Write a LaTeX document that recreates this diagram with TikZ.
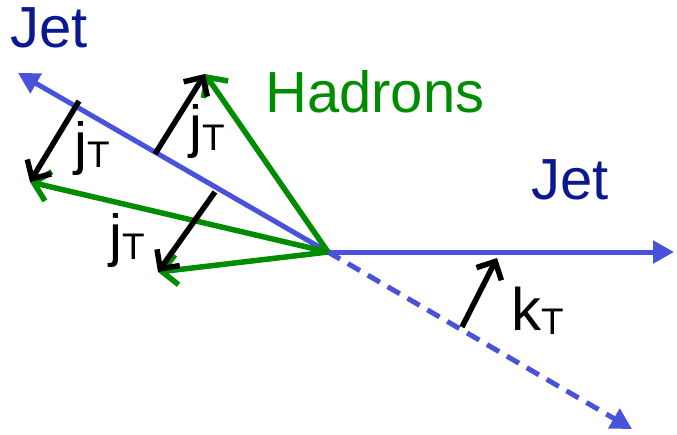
\documentclass[tikz,border=0pt]{standalone}
\usepackage{fontspec}
\setmainfont{Liberation Sans}
\usetikzlibrary{arrows.meta}
\definecolor{jetline}{RGB}{72,82,218}
\definecolor{jettext}{RGB}{10,24,145}
\definecolor{hadgreen}{RGB}{0,140,0}
\tikzset{
  jetarrow/.style={draw=jetline,line width=5pt,-{Triangle[length=21pt,width=22pt]}},
  hadarrow/.style={draw=hadgreen,line width=5.5pt,-{Straight Barb[length=15pt,width=30pt,line width=5.5pt]}},
  trarrow/.style={draw=black,line width=5.5pt,-{Straight Barb[length=14pt,width=28pt,line width=5.5pt]}},
  bigtext/.style={inner sep=0pt,anchor=base west,font=\fontsize{58}{62}\selectfont},
}
\newcommand{\trlabel}[1]{#1\raisebox{-4pt}{\fontsize{37}{40}\selectfont T}}
\begin{document}
\begin{tikzpicture}[x=1pt,y=-1pt]
\useasboundingbox (0,0) rectangle (677,434);
\coordinate (O) at (328,252);
\coordinate (J1) at (18,73);
\coordinate (J2) at (674,252);
\coordinate (JD) at (632,429);
\coordinate (H1) at (205,74);
\coordinate (H2) at (30,182);
\coordinate (H3) at (158,272);
\coordinate (a1) at (79,101);
\coordinate (a2) at (155,154);
\coordinate (a3) at (215,192);
\coordinate (k0) at (462,327);
\coordinate (k1) at (497,258);
% jet axes
\draw[jetarrow] (O) -- (J1);
\draw[jetarrow] (O) -- (J2);
\draw[jetarrow,dash pattern=on 14pt off 9pt] (O) -- (JD);
% hadrons
\draw[hadarrow] (O) -- (H1);
\draw[hadarrow] (O) -- (H2);
\draw[hadarrow] (O) -- (H3);
% transverse momenta
\draw[trarrow] (a1) -- (H2);
\draw[trarrow] (a2) -- (H1);
\draw[trarrow] (a3) -- (H3);
\draw[trarrow] (k0) -- (k1);
% labels
\node[bigtext,text=jettext] (jetA) at (10,47) {Jet};
\node[bigtext,text=jettext] (jetB) at (531,199) {Jet};
\node[bigtext,text=hadgreen] (had) at (265,112) {Hadrons};
\node[bigtext] (jt1) at (74,163) {\trlabel{j}};
\node[bigtext] (jt2) at (189,146) {\trlabel{j}};
\node[bigtext] (jt3) at (109,255) {\trlabel{j}};
\node[bigtext,font=\fontsize{60}{64}\selectfont] (kt) at (511,330) {\trlabel{k}};
\end{tikzpicture}
\end{document}
